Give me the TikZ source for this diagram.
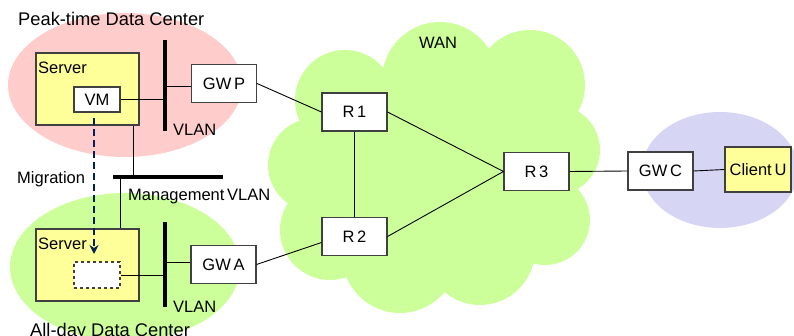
\documentclass[tikz,border=0pt]{standalone}
\usepackage{fontspec}
\setmainfont{Liberation Sans}
\newfontfamily\boxfont{Liberation Sans}[WordSpace=0.6]
\usetikzlibrary{arrows.meta}
\definecolor{pinkdc}{RGB}{255,204,204}
\definecolor{greenbg}{RGB}{204,255,153}
\definecolor{clientbg}{RGB}{214,214,244}
\definecolor{srvyellow}{RGB}{255,255,153}
\definecolor{boxline}{RGB}{64,64,64}
\definecolor{migblue}{RGB}{0,32,96}

\begin{document}
\begin{tikzpicture}[x=1pt,y=-1pt,
  box/.style={draw=boxline, line width=1.1pt, fill=white, inner sep=0pt,
    font=\boxfont\fontsize{16.5}{18}\selectfont},
  gw/.style={box, minimum width=65pt, minimum height=38pt},
  server/.style={box, fill=srvyellow, minimum width=103pt, minimum height=72pt},
  lbl/.style={inner sep=0pt, anchor=base west, font=\boxfont\fontsize{16.5}{18}\selectfont},
  title/.style={inner sep=0pt, anchor=base west, font=\fontsize{18.3}{20}\selectfont},
  bus/.style={line width=3.5pt},
  link/.style={line width=0.9pt},
  cloudpart/.style={fill=greenbg, draw=none}
]
\useasboundingbox (0,0) rectangle (794,336);

% background areas
\fill[pinkdc] (125,85) ellipse [x radius=117, y radius=72];
\fill[greenbg] (125,267) ellipse [x radius=115, y radius=74];
\fill[clientbg] (720,170) ellipse [x radius=78, y radius=58];

% WAN cloud built from overlapping discs
\fill[cloudpart] (440,170) ellipse [x radius=125, y radius=100];
\foreach \cx/\cy/\r in {440/80/58, 530/85/55, 555/150/45, 545/220/45,
                        480/250/55, 400/255/58, 330/230/50, 315/165/47, 345/100/50}
  \fill[cloudpart] (\cx,\cy) circle (\r);

% titles and labels
\node[title] (ttlP) at (18,26) {Peak-time Data Center};
\node[title] (ttlA) at (30,336) {All-day Data Center};
\node[lbl, anchor=base] (wan) at (438,49) {WAN};
\node[lbl] (mig) at (17,184) {Migration};

% peak-time data center
\node[server] (srvP) at (87.5,89) {};
\node[lbl] (srvPl) at (38,74) {Server};
\node[box, minimum width=46pt, minimum height=25pt] (vm) at (97,99.5) {VM};
\node[gw] (gwp) at (224,83.5) {GW P};
\node[lbl] (vlanP) at (173,136) {VLAN};
\coordinate (barPtop) at (165,40);
\coordinate (barPbot) at (165,131);

% management network
\coordinate (mgL) at (113,177);
\coordinate (mgR) at (223,177);
\coordinate (mgP) at (133,177);
\coordinate (mgA) at (120,177);
\node[lbl] (mgl) at (128,201) {Management VLAN};

% all-day data center
\node[server] (srvA) at (87.5,265) {};
\node[lbl] (srvAl) at (38,250) {Server};
\node[box, dashed, minimum width=46pt, minimum height=26pt] (ghost) at (97,275) {};
\node[gw] (gwa) at (223.5,264.5) {GW A};
\node[lbl] (vlanA) at (173,312) {VLAN};
\coordinate (barAtop) at (165,222);
\coordinate (barAbot) at (165,307);

% WAN routers
\node[gw] (r1) at (354.5,112) {R 1};
\node[gw] (r2) at (354.5,236.5) {R 2};
\node[gw] (r3) at (536.5,171.5) {R 3};

% client side
\node[gw] (gwc) at (660.5,171) {GW C};
\node[box, fill=srvyellow, minimum width=66pt, minimum height=45pt] (client) at (758,169.5) {Client U};

% buses
\draw[bus] (barPtop) -- (barPbot);
\draw[bus] (barAtop) -- (barAbot);
\draw[bus] (mgL) -- (mgR);

% links
\draw[link] (vm.east) -- (vm.east -| barPtop);
\draw[link] ([yshift=-3pt]gwp.west) -- ([yshift=-3pt]gwp.west -| barPtop);
\draw[link] (ghost.east) -- (ghost.east -| barAtop);
\draw[link] ([yshift=2pt]gwa.west) -- ([yshift=2pt]gwa.west -| barAtop);
\draw[link] (mgP |- srvP.south) -- (mgP);
\draw[link] (mgA) -- (mgA |- srvA.north);
\draw[link] (gwp.east) -- (r1.west);
\draw[link] (gwa.east) -- ([yshift=-6pt]r2.west);
\draw[link] (r1.south) -- (r2.north);
\draw[link] (r1.east) -- (r3.west);
\draw[link] (r2.east) -- (r3.west);
\draw[link] (r3.east) -- (gwc.west);
\draw[link] (gwc.east) -- (client.west);

% migration arrow
\coordinate (migS) at (94,118);
\coordinate (migE) at (94,254);
\draw[migblue, line width=2.8pt, dash pattern=on 7pt off 4pt,
      -{Stealth[length=9pt, width=9pt]}] (migS) -- (migE);
\end{tikzpicture}
\end{document}
